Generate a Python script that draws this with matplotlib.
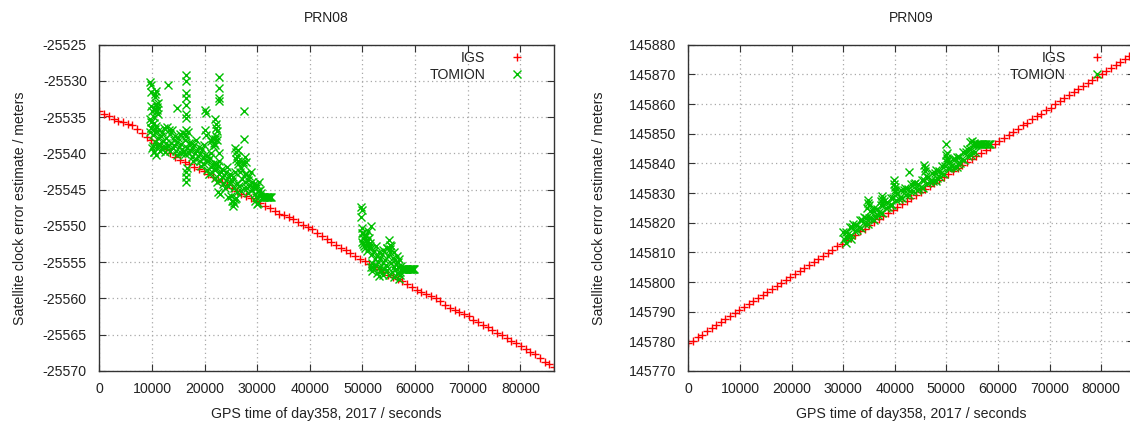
import numpy as np
import matplotlib
matplotlib.use("Agg")
import matplotlib.pyplot as plt

# IGS satellite clock estimates, one value every 900 s from 0 s
igs_step = 900
igs_prn08 = [
    -25534.2, -25534.5, -25534.9, -25535.3, -25535.5, -25535.7, -25535.9, -25536.1,
    -25536.6, -25537.2, -25537.7, -25538.2, -25538.6, -25539.0, -25539.4, -25539.9,
    -25540.5, -25540.9, -25541.2, -25541.5, -25541.8, -25542.1, -25542.4, -25542.8,
    -25543.2, -25543.6, -25544.0, -25544.4, -25544.8, -25545.2, -25545.6, -25545.9,
    -25546.2, -25546.6, -25546.9, -25547.2, -25547.5, -25547.9, -25548.3, -25548.5,
    -25548.7, -25549.0, -25549.4, -25549.8, -25550.1, -25550.4, -25550.9, -25551.4,
    -25551.8, -25552.2, -25552.6, -25553.0, -25553.3, -25553.7, -25554.1, -25554.5,
    -25554.8, -25555.2, -25555.6, -25556.0, -25556.4, -25556.7, -25557.0, -25557.3,
    -25557.6, -25558.0, -25558.4, -25558.8, -25559.1, -25559.4, -25559.7, -25560.0,
    -25560.4, -25560.9, -25561.3, -25561.6, -25561.9, -25562.1, -25562.4, -25562.9,
    -25563.3, -25563.6, -25564.0, -25564.4, -25564.7, -25565.0, -25565.4, -25565.9,
    -25566.2, -25566.5, -25566.9, -25567.4, -25567.7, -25568.2, -25568.7, -25569.1,
    -25569.5,
]
igs_prn09 = [
    145779.3, 145780.2, 145781.4, 145782.3, 145783.4, 145784.5, 145785.4, 145786.5,
    145787.4, 145788.5, 145789.5, 145790.5, 145791.6, 145792.5, 145793.6, 145794.6,
    145795.6, 145796.7, 145797.6, 145798.7, 145799.7, 145800.7, 145801.8, 145802.7,
    145803.8, 145804.8, 145805.8, 145806.9, 145807.8, 145808.9, 145809.9, 145810.9,
    145812.0, 145812.9, 145814.0, 145815.0, 145816.0, 145817.1, 145818.0, 145819.1,
    145820.1, 145821.1, 145822.2, 145823.1, 145824.2, 145825.2, 145826.2, 145827.3,
    145828.2, 145829.3, 145830.3, 145831.3, 145832.4, 145833.3, 145834.4, 145835.4,
    145836.4, 145837.5, 145838.4, 145839.5, 145840.5, 145841.5, 145842.6, 145843.5,
    145844.6, 145845.6, 145846.6, 145847.7, 145848.6, 145849.7, 145850.7, 145851.7,
    145852.8, 145853.7, 145854.8, 145855.8, 145856.8, 145857.9, 145858.8, 145859.9,
    145860.9, 145861.9, 145863.0, 145863.9, 145865.0, 145866.0, 145867.0, 145868.1,
    145869.0, 145870.1, 145871.1, 145872.1, 145873.2, 145874.1, 145875.2, 145876.2,
    145877.2,
]

# TOMION PRN08, first arc: regular epochs every 150 s from 9900 s
tom08a_start, tom08a_step = 9900, 150
tom08a = [
    -25536.5, -25539.2, -25537.4, -25539.8, -25537.0, -25538.4, -25536.2, -25539.0, -25537.8, -25538.7,
    -25536.8, -25538.8, -25537.6, -25539.4, -25537.1, -25538.3, -25536.5, -25539.1, -25537.9, -25538.6,
    -25536.3, -25539.0, -25536.8, -25539.6, -25537.3, -25538.5, -25536.7, -25539.3, -25538.1, -25538.8,
    -25537.6, -25539.6, -25538.4, -25540.2, -25537.9, -25539.1, -25537.3, -25539.9, -25538.7, -25539.4,
    -25537.2, -25539.8, -25538.2, -25540.1, -25537.6, -25539.2, -25537.0, -25540.0, -25538.5, -25539.5,
    -25538.5, -25540.5, -25539.3, -25541.1, -25538.8, -25540.0, -25538.2, -25540.8, -25539.6, -25540.3,
    -25539.1, -25541.1, -25539.9, -25541.7, -25539.4, -25540.6, -25538.8, -25541.4, -25540.2, -25540.9,
    -25540.3, -25542.3, -25541.1, -25542.9, -25540.6, -25541.8, -25540.0, -25542.6, -25541.4, -25542.1,
    -25541.4, -25543.4, -25542.2, -25544.0, -25541.7, -25542.9, -25541.1, -25543.7, -25542.5, -25543.2,
    -25542.2, -25544.2, -25543.0, -25544.8, -25542.5, -25543.7, -25541.9, -25544.5, -25543.3, -25544.0,
    -25542.8, -25545.8, -25543.8, -25546.5, -25543.3, -25544.8, -25542.5, -25546.1, -25544.1, -25545.3,
    -25541.5, -25544.5, -25542.5, -25545.2, -25542.0, -25543.5, -25541.2, -25544.8, -25542.8, -25544.0,
    -25542.8, -25544.8, -25543.6, -25545.4, -25543.1, -25544.3, -25542.5, -25545.1, -25543.9, -25544.6,
    -25544.2, -25545.6, -25544.7, -25546.0, -25544.4, -25545.2, -25544.0, -25545.8, -25545.0, -25545.5,
    -25546.0, -25546.0, -25546.0, -25546.0, -25546.0, -25546.0, -25546.0, -25546.0, -25546.0, -25546.0,
    -25546.0, -25546.0,
]
# TOMION PRN08, second arc: every 150 s from 50100 s
tom08b_start, tom08b_step = 50100, 150
tom08b = [
    -25551.0, -25552.7, -25551.5, -25553.1, -25551.2, -25552.2, -25550.7, -25552.6, -25551.7, -25552.3,
    -25553.1, -25555.1, -25553.9, -25555.7, -25553.4, -25554.6, -25552.8, -25555.4, -25554.2, -25554.9,
    -25553.6, -25555.6, -25554.4, -25556.2, -25553.9, -25555.1, -25553.3, -25555.9, -25554.7, -25555.4,
    -25553.1, -25556.1, -25554.1, -25556.8, -25553.6, -25555.1, -25552.8, -25556.4, -25554.4, -25555.6,
    -25554.7, -25556.1, -25555.2, -25556.5, -25554.9, -25555.7, -25554.5, -25556.3, -25555.5, -25556.0,
    -25556.0, -25556.0, -25556.0, -25556.0, -25556.0, -25556.0, -25556.0, -25556.0, -25556.0, -25556.0,
    -25556.0, -25556.0, -25556.0, -25556.0, -25556.0, -25556.0,
]
# TOMION PRN08 epochs off the main band (jumps after re-convergence)
tom08_extra_t = [
    9700, 9800, 9800, 9900, 9700, 9800, 9900, 9700, 10000,
    10500, 10600, 10700, 10800, 10900, 11000, 10700, 10600, 10400, 10300, 11100, 11200, 10500,
    10200, 10400, 10800, 11500, 12500, 13000, 14700,
    16500, 16500, 16500, 16500, 16500, 16500, 16500, 16500, 16300, 16500, 16500, 16500, 16700,
    20100, 20200, 20000, 20300,
    21300, 21500, 21700, 21900, 22100, 21600, 22000, 22300, 21900, 22100, 22300, 22200,
    22800, 22800, 22800, 22800, 22800, 22400,
    22500, 23000, 24500, 25200, 25400, 25600, 25800,
    25800, 26000, 26200, 26400, 25900, 26300,
    27500, 27500, 27600, 27400, 27800, 29500, 30000, 30200,
    49800, 49900, 49800, 50000, 50000, 49900, 50100, 50200, 51600,
    50400, 50700, 50900, 51200, 51400,
    52800, 53100, 54000, 56000, 57000, 57200,
    55000, 55200, 55300, 54700, 56000, 56500, 51600, 51800,
]
tom08_extra_v = [
    -25530.2, -25530.6, -25531.5, -25533.5, -25535.2, -25535.6, -25536.5, -25537.0, -25534.2,
    -25531.8, -25532.2, -25531.4, -25533.2, -25533.6, -25534.0, -25534.3, -25533.8, -25535.0,
    -25535.8, -25533.0, -25534.5, -25536.6,
    -25539.0, -25539.8, -25540.2, -25539.6, -25539.8, -25530.5, -25533.7,
    -25529.2, -25530.0, -25531.7, -25532.3, -25533.3, -25534.6, -25535.1, -25536.8, -25537.3,
    -25542.5, -25543.2, -25543.9, -25542.0,
    -25534.0, -25534.4, -25536.8, -25537.4,
    -25538.3, -25537.8, -25538.6, -25538.0, -25537.6, -25539.0, -25538.9, -25538.2,
    -25535.3, -25536.5, -25536.9, -25536.0,
    -25529.5, -25531.0, -25532.3, -25532.7, -25540.0, -25541.5,
    -25545.3, -25545.6, -25546.0, -25546.6, -25547.2, -25546.9, -25546.3,
    -25539.3, -25539.8, -25540.4, -25541.0, -25540.8, -25539.5,
    -25534.2, -25538.0, -25540.5, -25541.5, -25541.2, -25546.5, -25547.0, -25546.8,
    -25547.4, -25547.8, -25548.7, -25550.3, -25551.0, -25552.2, -25551.6, -25552.5, -25550.0,
    -25551.3, -25552.0, -25553.5, -25553.0, -25552.8,
    -25556.5, -25556.9, -25556.8, -25557.0, -25557.3, -25556.8,
    -25552.0, -25552.6, -25553.2, -25553.0, -25553.6, -25554.2, -25555.6, -25556.2,
]

# TOMION PRN09: every 250 s from 30000 s
tom09_start, tom09_step = 30000, 250
tom09 = [
    145817.0, 145814.6, 145816.7, 145814.8, 145816.1, 145818.5, 145815.9, 145818.5,
    145819.6, 145817.2, 145819.3, 145817.4, 145818.5, 145820.9, 145818.3, 145820.9,
    145821.9, 145819.5, 145821.6, 145819.7, 145821.7, 145824.1, 145821.5, 145824.1,
    145824.8, 145822.4, 145824.5, 145822.6, 145823.5, 145825.9, 145823.3, 145825.9,
    145827.4, 145825.0, 145827.1, 145825.2, 145826.0, 145828.4, 145825.8, 145828.4,
    145830.2, 145827.8, 145829.9, 145828.0, 145828.6, 145831.0, 145828.4, 145831.0,
    145831.7, 145829.3, 145831.4, 145829.5, 145830.8, 145833.2, 145830.6, 145833.2,
    145833.5, 145831.1, 145833.2, 145831.3, 145832.0, 145834.4, 145831.8, 145834.4,
    145835.8, 145833.4, 145835.5, 145833.6, 145834.3, 145836.7, 145834.1, 145836.7,
    145837.6, 145835.2, 145837.3, 145835.4, 145836.7, 145839.1, 145836.5, 145839.1,
    145840.7, 145838.3, 145840.4, 145838.5, 145839.1, 145841.5, 145838.9, 145841.5,
    145842.3, 145839.9, 145842.0, 145840.1, 145841.4, 145843.8, 145841.2, 145843.8,
    145845.0, 145842.6, 145844.7, 145842.8, 145843.9, 145846.3, 145843.7, 145846.3,
    145846.5, 145846.5, 145846.5, 145846.5, 145846.5, 145846.5, 145846.5, 145846.5,
    145846.5, 145846.5, 145846.5,
]
tom09_extra_t = [
    34800, 34900, 35000, 34700, 37500, 37600, 37400,
    39800, 39900, 40000, 40100, 42800, 45700, 45800, 45900,
    50000, 50100, 49900, 50200, 50400, 55000, 54500, 55300,
    31500, 30500, 36000, 48000, 52000,
]
tom09_extra_v = [
    145827.6, 145826.5, 145825.8, 145825.0, 145829.0, 145828.0, 145827.2,
    145834.4, 145833.2, 145832.0, 145831.0, 145837.1, 145839.4, 145838.6, 145837.5,
    145846.4, 145843.5, 145842.8, 145841.8, 145841.0, 145847.5, 145847.2, 145847.0,
    145814.5, 145813.0, 145821.0, 145834.0, 145838.8,
]

RED = "#ff0000"
GREEN = "#00c000"
W, H = 1130, 421


def epochs(start, step, vals):
    return start + step * np.arange(len(vals))


def style_axes(ax, title, ylim, ystep, width_px, ylabelpad):
    ax.set_xlim(0, 86400)
    ax.set_ylim(*ylim)
    ax.set_xticks(np.arange(0, 80001, 10000))
    ax.set_yticks(np.arange(ylim[0], ylim[1] + 1, ystep))
    ax.ticklabel_format(useOffset=False, style="plain")
    ax.tick_params(direction="in", top=True, right=True, length=5, width=0.8,
                   colors="#333333", labelcolor="#222222", pad=8)
    ax.tick_params(axis="y", pad=9)
    ax.grid(True, linestyle=(0, (1, 2.5)), color="#a8a8a8", linewidth=0.9)
    for s in ax.spines.values():
        s.set_color("#333333")
        s.set_linewidth(1.0)
    ax.set_title(title, pad=16, fontsize=10, color="#222222")
    ax.set_xlabel("GPS time of day358, 2017 / seconds", labelpad=8, color="#222222")
    ax.set_ylabel("Satellite clock error estimate / meters", labelpad=ylabelpad,
                  color="#222222")
    leg = ax.legend(loc="upper right", markerfirst=False, frameon=False, numpoints=1,
                    handlelength=2.0, handletextpad=1.2, labelspacing=0.25,
                    borderpad=0.15, borderaxespad=0,
                    bbox_to_anchor=(1 - 21.0 / width_px, 1 - 4.0 / 326))
    for t in leg.get_texts():
        t.set_color("#222222")


def main():
    plt.rcParams["font.family"] = ["Liberation Sans", "DejaVu Sans"]
    plt.rcParams["font.size"] = 10.2
    plt.rcParams["axes.unicode_minus"] = False

    fig = plt.figure(figsize=(W / 100, H / 100), dpi=100)
    mk = dict(linestyle="none", markersize=5.6, markeredgewidth=1.0)

    # PRN08
    w1 = 554 - 99.3
    ax1 = fig.add_axes([99.3 / W, (H - 371) / H, w1 / W, (371 - 44.7) / H])
    t_igs = epochs(0, igs_step, igs_prn08)
    ax1.plot(t_igs, igs_prn08, "+", color=RED, label="IGS", **mk)
    t_all = np.concatenate([epochs(tom08a_start, tom08a_step, tom08a),
                            epochs(tom08b_start, tom08b_step, tom08b), tom08_extra_t])
    v_all = np.concatenate([tom08a, tom08b, tom08_extra_v])
    ax1.plot(t_all, v_all, "x", color=GREEN, label="TOMION", **mk)
    style_axes(ax1, "PRN08", (-25570, -25525), 5, w1, 11)

    # PRN09 - plot area runs past the right edge of the figure
    w2 = 86.4 * 5.16
    ax2 = fig.add_axes([688.3 / W, (H - 371) / H, w2 / W, (371 - 44.7) / H])
    t_igs = epochs(0, igs_step, igs_prn09)
    ax2.plot(t_igs, igs_prn09, "+", color=RED, label="IGS", **mk)
    t_all = np.concatenate([epochs(tom09_start, tom09_step, tom09), tom09_extra_t])
    v_all = np.concatenate([tom09, tom09_extra_v])
    ax2.plot(t_all, v_all, "x", color=GREEN, label="TOMION", **mk)
    style_axes(ax2, "PRN09", (145770, 145880), 10, w2, 16)

    fig.savefig("out.png", dpi=100)


if __name__ == "__main__":
    main()
